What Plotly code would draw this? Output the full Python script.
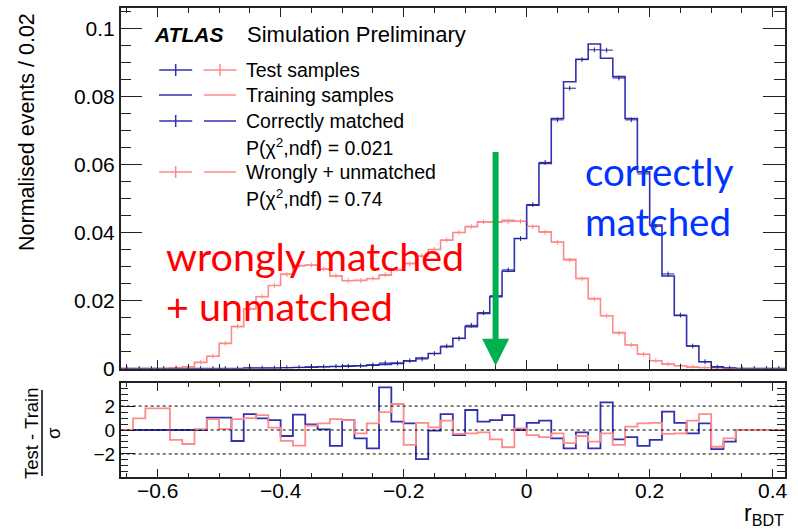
import plotly.graph_objects as go

W, H = 798, 531

# ---------------- data ----------------
bin_edges = [round(-0.66 + 0.02 * i, 2) for i in range(55)]
bin_centers = [round(-0.65 + 0.02 * i, 2) for i in range(54)]

red_train = [0, 0, 0, 0, 0.0002, 0.0005, 0.0018, 0.0036, 0.0074, 0.0123,
             0.0175, 0.0211, 0.0244, 0.0278, 0.0303, 0.0304, 0.0292, 0.0272, 0.0258, 0.0259,
             0.0264, 0.0274, 0.0289, 0.0309, 0.0330, 0.0350, 0.0377, 0.0400, 0.0417, 0.0431,
             0.0431, 0.0436, 0.0433, 0.0418, 0.0402, 0.0372, 0.0321, 0.0265, 0.0206, 0.0155,
             0.0106, 0.0069, 0.0042, 0.0023, 0.0013, 0.0008, 0.0004, 0.0002, 0.0001, 0,
             0, 0, 0, 0]
red_test = [0, 0, 0, 0, 0.0002, 0.0005, 0.0018, 0.0036, 0.0074, 0.0124,
            0.0176, 0.0212, 0.0244, 0.0276, 0.0301, 0.0304, 0.0293, 0.0273, 0.0259, 0.0259,
            0.0265, 0.0276, 0.0292, 0.0308, 0.0331, 0.0350, 0.0378, 0.0400, 0.0417, 0.0431,
            0.0429, 0.0432, 0.0433, 0.0417, 0.0400, 0.0371, 0.0318, 0.0264, 0.0204, 0.0155,
            0.0104, 0.0069, 0.0042, 0.0023, 0.0013, 0.0008, 0.0004, 0.0002, 0.0001, 0,
            0, 0, 0, 0]
blue_train = [0, 0, 0, 0, 0, 0, 0, 0, 0, 0,
              0.0001, 0.0001, 0.0001, 0.0002, 0.0003, 0.0004, 0.0005, 0.0006, 0.0007, 0.0008,
              0.0010, 0.0012, 0.0015, 0.0022, 0.0031, 0.0044, 0.0064, 0.0089, 0.0123, 0.0162,
              0.0211, 0.0286, 0.0382, 0.0480, 0.0603, 0.0735, 0.0843, 0.0909, 0.0954, 0.0912,
              0.0858, 0.0735, 0.0578, 0.0422, 0.0272, 0.0156, 0.0066, 0.0020, 0.0005, 0.0001,
              0, 0, 0, 0]
blue_test = [0, 0, 0, 0, 0, 0, 0, 0, 0, 0,
             0.0001, 0.0001, 0.0001, 0.0002, 0.0003, 0.0004, 0.0005, 0.0006, 0.0007, 0.0008,
             0.0010, 0.0016, 0.0016, 0.0023, 0.0028, 0.0044, 0.0066, 0.0088, 0.0127, 0.0164,
             0.0214, 0.0290, 0.0382, 0.0482, 0.0606, 0.0731, 0.0824, 0.0908, 0.0937, 0.0936,
             0.0854, 0.0731, 0.0572, 0.0418, 0.0278, 0.0157, 0.0066, 0.0020, 0.0004, 0.0001,
             0, 0, 0, 0]

blue_ratio = [0, 0, 0, 0, 0, 0, 0, 1.03, 1.03, -0.92,
              1.33, 0.97, 0.83, -0.5, 1.28, 0.47, 0.05, -1.33, 0.83, -0.7,
              -1.53, 3.56, 0.7, 0.55, -2.44, -0.05, 1.33, -0.42, 1.67, 0.7,
              0.83, 1.25, 0.0, 0.6, 0.78, -0.7, -1.53, -0.2, -1.53, 2.3,
              -0.78, -0.6, -1.33, -0.83, 1.53, 0.6, -0.28, 0.55, -1.6, -0.97,
              0, 0, 0, 0]
red_ratio = [0, 0.97, 1.8, 1.8, -0.83, -1.17, 0.08, 0.9, 0.08, 0.9,
             1.0, 1.25, 0.2, -0.9, -1.3, 0.36, 0.55, 0.9, 0.83, -0.28,
             0.55, 1.5, 2.17, -1.25, 0.6, 0.22, 0.78, -0.33, -0.28, -0.2,
             -0.78, -1.44, 0.14, -0.42, -0.6, -0.28, -1.1, -0.5, -0.97, -0.28,
             -1.25, 0.28, 0.55, 0.6, -0.33, -0.28, 0.78, 1.33, -1.4, -0.7,
             0, 0, 0, 0]

x_tickvals = [-0.6, -0.4, -0.2, 0, 0.2, 0.4]
y_tickvals = [0, 0.02, 0.04, 0.06, 0.08, 0.1]
r_tickvals = [-2, 0, 2]

legend_rows = ["Test samples", "Training samples", "Correctly matched",
               "P(χ<sup>2</sup>,ndf) = 0.021", "Wrongly + unmatched",
               "P(χ<sup>2</sup>,ndf) = 0.74"]

# ---------------- style ----------------
BLUE = "#3030B0"
BLUE_D = "#22228F"
RED = "#FF8A8A"
GREEN = "#00B050"
ROOTF = "Liberation Sans"


def px(x):
    return x / W


def py(y):
    return 1 - y / H


def step(vals):
    return vals + [vals[-1]]


fig = go.Figure()

# main histograms (training = lines)
fig.add_trace(go.Scatter(x=bin_edges, y=step(red_train), mode="lines",
                         line=dict(color=RED, width=1.6, shape="hv"),
                         xaxis="x", yaxis="y", showlegend=False))
fig.add_trace(go.Scatter(x=bin_edges, y=step(blue_train), mode="lines",
                         line=dict(color=BLUE, width=1.6, shape="hv"),
                         xaxis="x", yaxis="y", showlegend=False))
# test samples (crosses)
fig.add_trace(go.Scatter(x=bin_centers, y=red_test, mode="markers",
                         marker=dict(size=1, color=RED),
                         error_x=dict(type="constant", value=0.01, width=0, color=RED, thickness=1),
                         error_y=dict(type="constant", value=0.0007, width=0, color=RED, thickness=1),
                         xaxis="x", yaxis="y", showlegend=False))
fig.add_trace(go.Scatter(x=bin_centers, y=blue_test, mode="markers",
                         marker=dict(size=1, color=BLUE_D),
                         error_x=dict(type="constant", value=0.01, width=0, color=BLUE_D, thickness=1),
                         error_y=dict(type="constant", value=0.0007, width=0, color=BLUE_D, thickness=1),
                         xaxis="x", yaxis="y", showlegend=False))

# ratio panel
fig.add_trace(go.Scatter(x=bin_edges, y=step(blue_ratio), mode="lines",
                         line=dict(color=BLUE, width=1.8, shape="hv"),
                         xaxis="x2", yaxis="y2", showlegend=False))
fig.add_trace(go.Scatter(x=bin_edges, y=step(red_ratio), mode="lines",
                         line=dict(color=RED, width=1.8, shape="hv"),
                         xaxis="x2", yaxis="y2", showlegend=False))

xdom = [px(120.7), px(785)]
axis_common = dict(showline=True, linecolor="#222", linewidth=1.5, mirror="ticks",
                   ticks="inside", tickcolor="#222", tickwidth=1, showgrid=False,
                   zeroline=False, automargin=False)

fig.update_layout(
    template="none",
    width=W, height=H, margin=dict(l=0, r=0, t=0, b=0, pad=0),
    paper_bgcolor="white", plot_bgcolor="white",
    font=dict(family=ROOTF, color="black"),
    xaxis=dict(domain=xdom, range=[-0.66, 0.42], anchor="y", tickvals=x_tickvals,
               ticklen=9, showticklabels=False,
               minor=dict(dtick=0.05, tick0=0, ticklen=5, ticks="inside", tickcolor="#222"),
               **axis_common),
    yaxis=dict(domain=[py(368.5), py(8.3)], range=[0, 0.1059], anchor="x",
               tickvals=y_tickvals, ticklen=22,
               tickfont=dict(size=21, family=ROOTF),
               minor=dict(dtick=0.005, tick0=0, ticklen=11, ticks="inside", tickcolor="#222"),
               **axis_common),
    xaxis2=dict(domain=xdom, range=[-0.66, 0.42], anchor="y2", tickvals=x_tickvals,
                ticklen=8, tickfont=dict(size=21, family=ROOTF), ticklabelstandoff=-6,
                minor=dict(dtick=0.05, tick0=0, ticklen=4, ticks="inside", tickcolor="#222"),
                **axis_common),
    yaxis2=dict(domain=[py(476.7), py(383.3)], range=[-3.9, 3.9], anchor="x2",
                tickvals=r_tickvals, ticklen=15, tickfont=dict(size=19, family=ROOTF),
                minor=dict(dtick=0.5, tick0=0, ticklen=8, ticks="inside", tickcolor="#222"),
                **axis_common),
)

shapes = []
# dotted reference lines in ratio panel
for v in r_tickvals:
    shapes.append(dict(type="line", xref="x2 domain", yref="y2", x0=0, x1=1, y0=v, y1=v,
                       line=dict(color="black", width=1, dash="dot")))

# custom legend symbols
rows_y = [70, 95, 121, 147, 172, 198]


def hline(x0, x1, y, c):
    shapes.append(dict(type="line", xref="paper", yref="paper", x0=px(x0), x1=px(x1),
                       y0=py(y), y1=py(y), line=dict(color=c, width=1.5)))


def cross(xc, y, c):
    hline(xc - 16.5, xc + 16.5, y, c)
    shapes.append(dict(type="line", xref="paper", yref="paper", x0=px(xc), x1=px(xc),
                       y0=py(y - 6), y1=py(y + 6), line=dict(color=c, width=1.5)))


cross(175.7, rows_y[0], BLUE)
cross(220, rows_y[0], RED)
hline(159, 192, rows_y[1], BLUE)
hline(204, 236, rows_y[1], RED)
cross(175.7, rows_y[2], BLUE)
hline(204, 236, rows_y[2], BLUE)
cross(175.7, rows_y[4], RED)
hline(204, 236, rows_y[4], RED)

# fraction line of ratio title
shapes.append(dict(type="line", xref="paper", yref="paper", x0=px(42), x1=px(42),
                   y0=py(390), y1=py(476), line=dict(color="black", width=1.5)))

annotations = []
annotations.append(dict(text="<b><i>ATLAS</i></b>", x=px(152), y=py(34), xref="paper", yref="paper",
                        xanchor="left", yanchor="middle", showarrow=False,
                        font=dict(size=21, family=ROOTF)))
annotations.append(dict(text="Simulation Preliminary", x=px(245), y=py(34), xref="paper", yref="paper",
                        xanchor="left", yanchor="middle", showarrow=False,
                        font=dict(size=22, family=ROOTF)))
for t, yy in zip(legend_rows, rows_y):
    annotations.append(dict(text=t, x=px(244), y=py(yy), xref="paper", yref="paper",
                            xanchor="left", yanchor="middle", showarrow=False,
                            font=dict(size=19.5, family=ROOTF)))

# axis titles
annotations.append(dict(text="Normalised events / 0.02", textangle=-90, x=px(27), y=py(11),
                        xref="paper", yref="paper", xanchor="center", yanchor="top",
                        showarrow=False, font=dict(size=21.5, family=ROOTF)))
annotations.append(dict(text="Test - Train", textangle=-90, x=px(31), y=py(433),
                        xref="paper", yref="paper", xanchor="center", yanchor="middle",
                        showarrow=False, font=dict(size=18.5, family=ROOTF)))
annotations.append(dict(text="σ", textangle=-90, x=px(53), y=py(433),
                        xref="paper", yref="paper", xanchor="center", yanchor="middle",
                        showarrow=False, font=dict(size=18.5, family=ROOTF)))
annotations.append(dict(text="r<sub>BDT</sub>", x=px(786), y=py(531),
                        xref="paper", yref="paper", xanchor="right", yanchor="bottom",
                        showarrow=False, font=dict(size=23, family=ROOTF)))

# big coloured labels
BIGF = "Lato"
annotations.append(dict(text="correctly", x=px(583), y=py(171), xref="paper", yref="paper",
                        xanchor="left", yanchor="middle", showarrow=False,
                        font=dict(size=38.5, family=BIGF, color="#0033FF")))
annotations.append(dict(text="matched", x=px(583), y=py(221), xref="paper", yref="paper",
                        xanchor="left", yanchor="middle", showarrow=False,
                        font=dict(size=38.5, family=BIGF, color="#0033FF")))
annotations.append(dict(text="wrongly matched", x=px(164), y=py(255), xref="paper", yref="paper",
                        xanchor="left", yanchor="middle", showarrow=False,
                        font=dict(size=39.5, family=BIGF, color="#FF0000")))
annotations.append(dict(text="+ unmatched", x=px(164), y=py(305), xref="paper", yref="paper",
                        xanchor="left", yanchor="middle", showarrow=False,
                        font=dict(size=39.5, family=BIGF, color="#FF0000")))

# green arrow
annotations.append(dict(x=-0.0505, y=0.0008, ax=-0.0505, ay=0.0641, xref="x", yref="y",
                        axref="x", ayref="y", showarrow=True, arrowhead=2, arrowsize=0.9,
                        arrowwidth=6, arrowcolor=GREEN, text=""))

fig.update_layout(shapes=shapes, annotations=annotations)
fig.write_html("out.html")
